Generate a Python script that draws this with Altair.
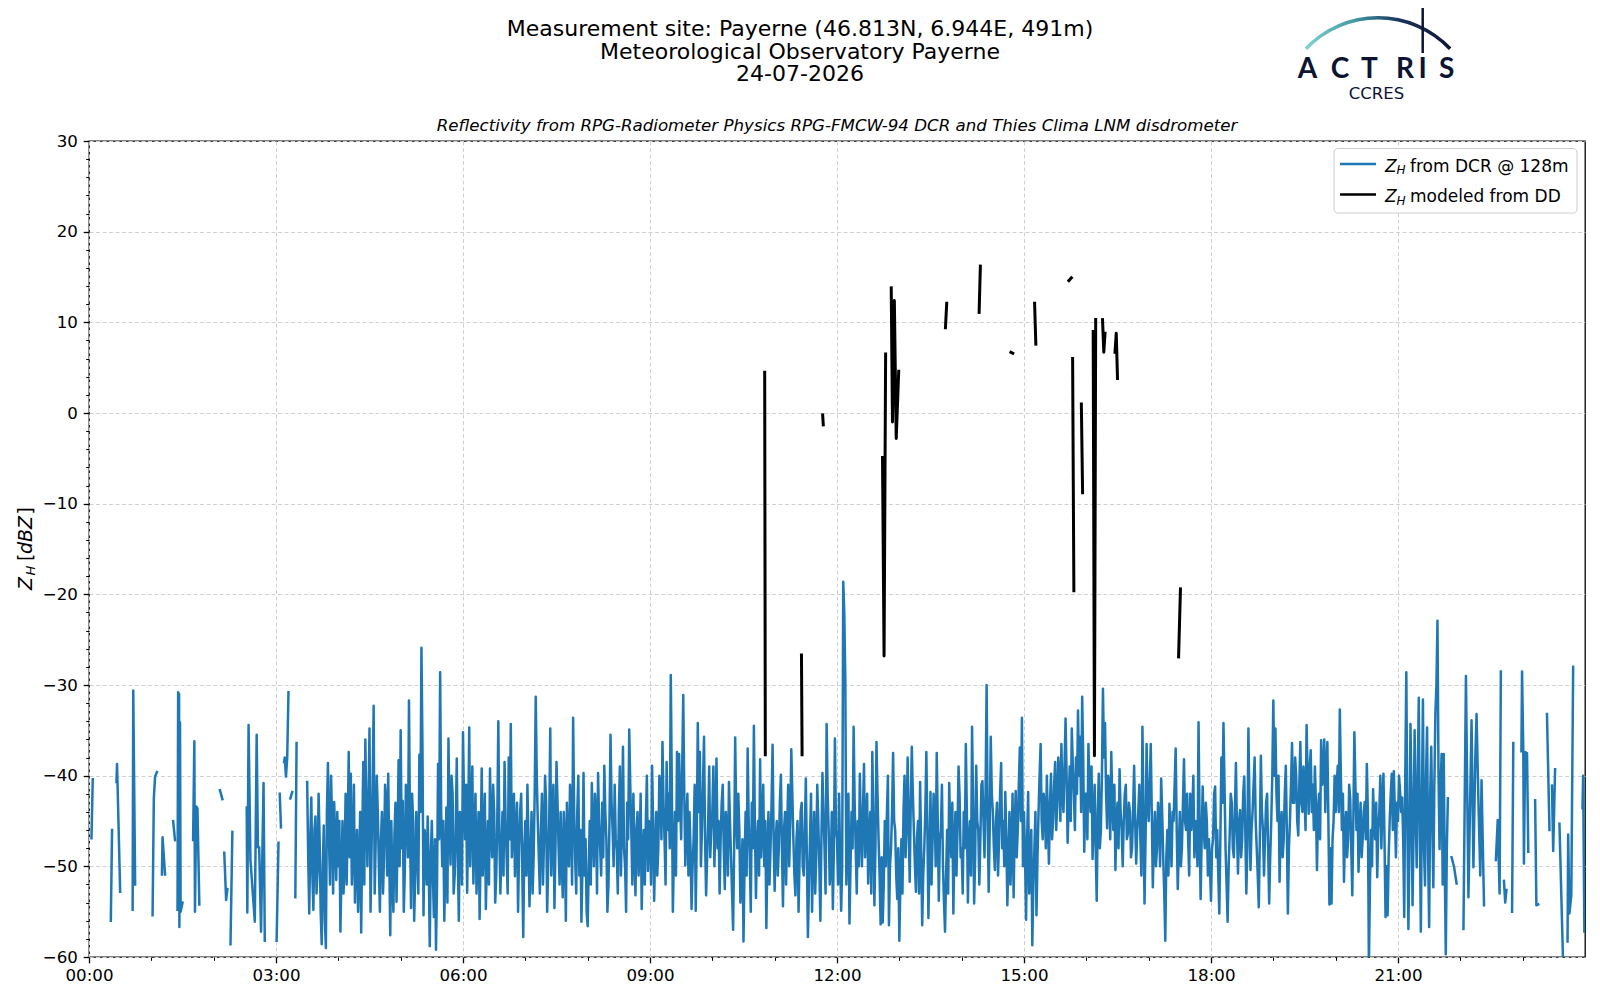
import altair as alt
import pandas as pd

# ---------------- texts ----------------
title_lines = ["Measurement site: Payerne (46.813N, 6.944E, 491m)",
               "Meteorological Observatory Payerne",
               "24-07-2026"]
subtitle = "Reflectivity from RPG-Radiometer Physics RPG-FMCW-94 DCR and Thies Clima LNM disdrometer"
legend_rest = ["from DCR @ 128m", "modeled from DD"]

# ---------------- axis ticks ----------------
x_major = [0, 3, 6, 9, 12, 15, 18, 21]
x_minor = [1, 2, 4, 5, 7, 8, 10, 11, 13, 14, 16, 17, 19, 20, 22, 23]
y_major = [-60, -50, -40, -30, -20, -10, 0, 10, 20, 30]
y_minor = [-58, -56, -54, -52, -48, -46, -44, -42, -38, -36, -34, -32, -28, -26, -24, -22,
           -18, -16, -14, -12, -8, -6, -4, -2, 2, 4, 6, 8, 12, 14, 16, 18, 22, 24, 26, 28]

# ---------------- Z_H from DCR: early sparse part (hours, dBZ), None = gap ----------------
early_t = [0.04, 0.06, None,
           0.35, 0.37, None,
           0.44, 0.45, 0.50, None,
           0.70, 0.71, 0.74, None,
           1.02, 1.04, 1.06, 1.09, None,
           1.17, 1.18, 1.22, None,
           1.35, 1.38, None,
           1.42, 1.43, 1.445, 1.45, 1.46, 1.47, 1.50, None,
           1.67, 1.69, 1.70, 1.72, 1.74, 1.77, None,
           2.10, 2.14, None,
           2.17, 2.20, 2.22, None,
           2.27, 2.30, None,
           2.53, 2.54, 2.56, 2.59, 2.66, 2.69, 2.71, 2.73, 2.76, 2.80, 2.82, None,
           3.01, 3.04, None,
           3.06, 3.08, None,
           3.13, 3.14, 3.16, 3.18, 3.20, None,
           3.23, 3.26, None,
           3.31, 3.33, None]
early_z = [-46.9, -40.4, None,
           -56.0, -46.0, None,
           -40.7, -38.7, -52.8, None,
           -54.8, -30.6, -52.0, None,
           -55.4, -42.5, -40.1, -39.6, None,
           -50.9, -46.8, -50.9, None,
           -45.0, -47.1, None,
           -54.8, -30.8, -31.0, -56.7, -34.1, -55.0, -54.0, None,
           -47.1, -36.2, -55.0, -43.4, -43.6, -54.2, None,
           -41.6, -42.6, None,
           -48.5, -53.7, -52.5, None,
           -58.6, -46.2, None,
           -43.5, -55.1, -34.4, -49.3, -56.1, -35.5, -47.9, -47.9, -57.2, -40.8, -58.2, None,
           -58.2, -47.4, None,
           -42.0, -45.7, None,
           -38.5, -38.0, -40.1, -38.0, -30.8, None,
           -42.5, -41.8, None,
           -53.4, -36.4, None]

# ---------------- Z_H from DCR: dense part, one value per minute ----------------
dcr_03 = [-40.7, -49, -55.2, -47, -42.4, -51, -54.8, -46, -44.5, -53, -50.5, -42, -47.0, -55, -58.6,
          -50, -45.5, -56, -59.0, -44, -38.6, -47, -52.0, -40, -45.0, -53, -42.9, -47, -51.5, -44]
dcr_04 = [-50.0, -45, -57.2, -51, -45.0, -53, -49.5, -42, -52.0, -46, -37.4, -49, -39.8, -52, -48.5,
          -41, -54.0, -49, -46.0, -55, -50.5, -44, -57.3, -47, -38.5, -52, -36.0, -44, -50.0, -43,
          -34.8, -55, -48.0, -41, -32.3, -53, -47.0, -40, -44.0, -50, -55.0, -47, -44.0, -53, -49.0,
          -41, -43.0, -51, -39.8, -49, -57.6, -45, -51.6, -55, -46.5, -43, -53.9, -47, -38.3, -50]
dcr_05 = [-35.0, -48, -42.8, -55, -50.5, -41, -44.0, -49, -31.7, -46, -54.6, -42, -45.0, -56, -51.0,
          -44, -48.0, -53, -37.7, -44, -25.9, -37, -55.4, -46, -47.0, -52, -44.5, -50, -58.8, -49,
          -45.0, -51, -55.6, -47, -59.2, -52, -38.7, -47, -28.6, -44, -50.0, -45, -56.0, -50, -43.5,
          -54, -35.9, -45, -49.8, -40, -42.0, -53, -51.0, -46, -38.1, -49, -56.0, -44, -46.0, -52]
dcr_06 = [-35.2, -43, -47.0, -41, -52.9, -45, -34.7, -50, -44.0, -39, -51.9, -47, -42.0, -53, -48.0,
          -44, -55.8, -48, -39.2, -51, -47.0, -42, -54.7, -49, -45.0, -52, -39.2, -46, -49.0, -41,
          -44.0, -54, -51.0, -45, -34.0, -47, -53.0, -48, -44.0, -51, -38.5, -45, -49.0, -53, -38.0,
          -47, -34.3, -49, -46.0, -42, -51.1, -46, -43.0, -55, -48.0, -44, -42.0, -50, -57.8, -48]
dcr_07 = [-45.0, -51, -41.0, -47, -54.4, -49, -44.0, -53, -49.0, -42, -31.3, -40, -45.0, -49, -53.0,
          -46, -42.0, -52, -47.0, -40, -43.0, -55, -50.0, -45, -34.8, -51, -46.0, -41, -54.6, -48,
          -38.5, -43, -48.0, -52, -44.0, -49, -53.4, -44, -47.0, -56, -43.0, -48, -50.0, -41, -45.0,
          -52, -33.6, -44, -49.3, -53, -44.0, -40, -51.0, -46, -56.1, -50, -39.7, -51, -47.0, -55]
dcr_08 = [-56.6, -50, -45.0, -52, -40.8, -46, -50.0, -42, -44.0, -53, -39.7, -45, -48.0, -51, -43.0,
          -49, -38.9, -44, -47.0, -55, -52.1, -45, -35.5, -43, -46.0, -50, -41.0, -47, -48.2, -53,
          -44.0, -39, -51.0, -45, -36.8, -48, -50.0, -55, -43.0, -47, -34.9, -41, -46.0, -52, -42.0,
          -48, -53.2, -46, -44.0, -51, -48.0, -42, -54.7, -49, -46.0, -52, -44.9, -40, -50.5, -45]
dcr_09 = [-46.0, -52, -38.9, -45, -53.8, -48, -44.0, -51, -48.0, -40, -41.0, -47, -36.3, -43, -47.0,
          -52, -38.5, -46, -42.0, -48, -28.9, -41, -55.0, -49, -44.0, -51, -37.4, -45, -37.6, -43,
          -47.0, -39, -31.1, -42, -49.9, -45, -42.0, -51, -44.0, -48, -54.7, -50, -47.0, -41, -54.9,
          -47, -34.2, -44, -37.4, -50, -46.0, -41, -35.7, -47, -53.2, -49, -45.0, -39, -49.0, -46]
dcr_10 = [-44.0, -39, -50.0, -45, -38.1, -48, -45.0, -53, -47.0, -43, -41.0, -48, -52.5, -44, -46.0,
          -51, -40.7, -45, -49.0, -53, -57.0, -48, -35.8, -45, -48.0, -42, -46.0, -54, -51.0, -47,
          -58.3, -50, -44.0, -51, -37.0, -45, -49.0, -55, -43.0, -48, -34.5, -46, -53.5, -47, -45.0,
          -51, -38.2, -49, -46.0, -41, -50.0, -45, -56.8, -49, -44.0, -52, -48.0, -43, -36.6, -47]
dcr_11 = [-52.7, -47, -45.0, -51, -48.0, -43, -39.9, -48, -54.4, -46, -44.0, -52, -46.0, -41, -50.0,
          -45, -37.1, -42, -47.0, -51, -53.2, -47, -45.0, -55, -49.0, -44, -43.0, -50, -51.0, -46,
          -40.3, -49, -57.8, -52, -47.0, -42, -55.0, -48, -44.0, -53, -49.0, -41, -45.0, -50, -56.0,
          -47, -39.7, -44, -48.0, -53, -34.3, -42, -46.0, -52, -50.0, -44, -54.7, -48, -35.9, -46]
dcr_12 = [-47.0, -52, -42.0, -49, -54.9, -50, -18.6, -22, -29.3, -52, -47.0, -42, -56.3, -50, -44.0,
          -48, -34.6, -43, -48.0, -53, -45.0, -50, -39.8, -46, -50.0, -44, -38.7, -49, -46.0, -42,
          -51.9, -47, -44.0, -53, -37.4, -45, -54.3, -48, -36.3, -42, -47.0, -51, -56.4, -49, -56.2,
          -52, -45.0, -50, -44.4, -40, -56.5, -50, -48.0, -44, -37.5, -45, -46.0, -51, -53.6, -48]
dcr_13 = [-58.2, -52, -47.0, -53, -44.0, -40, -49.0, -45, -38.0, -46, -51.7, -43, -36.8, -42, -46.0,
          -50, -52.8, -47, -45.0, -53, -40.7, -48, -56.5, -51, -48.0, -44, -37.4, -46, -55.7, -49,
          -41.8, -52, -47.0, -42, -44.0, -50, -37.5, -45, -53.8, -47, -46.0, -41, -50.0, -54, -57.2,
          -51, -46.0, -53, -40.8, -46, -49.0, -43, -55.2, -48, -44.0, -51, -46.0, -39, -42.2, -49]
dcr_14 = [-48.0, -53, -44.0, -48, -36.5, -44, -54.0, -47, -45.0, -51, -34.6, -43, -54.1, -49, -38.9,
          -45, -46.0, -52, -47.0, -41, -40.6, -45, -49.0, -42, -30.0, -44, -52.8, -46, -35.7, -42,
          -44.0, -48, -50.4, -45, -43.0, -51, -47.0, -42, -38.6, -48, -45.0, -50, -41.8, -47, -54.3,
          -49, -44.0, -52, -48.0, -42, -53.4, -46, -41.7, -49, -46.0, -41, -36.9, -45, -33.6, -50]
dcr_15 = [-44.0, -49, -55.9, -47, -41.8, -53, -50.0, -46, -58.7, -52, -48.0, -44, -55.4, -49, -44.0,
          -40, -36.5, -45, -47.0, -42, -43.3, -48, -40.0, -45, -49.7, -43, -39.8, -47, -45.0, -41,
          -38.5, -46, -43.0, -38, -40.0, -45, -36.5, -42, -44.0, -39, -33.7, -40, -47.4, -43, -39.0,
          -45, -34.8, -39, -42.0, -46, -38.0, -42, -32.8, -40, -35.7, -44, -31.3, -38, -48.4, -42]
dcr_16 = [-42.0, -47, -36.5, -41, -44.0, -39, -49.2, -45, -41.0, -48, -53.8, -44, -39.8, -48, -46.0,
          -40, -30.4, -38, -34.2, -42, -45.8, -40, -41.0, -47, -37.4, -43, -46.0, -41, -50.4, -45,
          -43.0, -48, -39.3, -44, -46.0, -50, -45.0, -42, -41.0, -47, -46.4, -43, -44.0, -49, -48.0,
          -44, -38.9, -45, -49.7, -46, -44.0, -41, -47.0, -51, -34.6, -44, -54.1, -47, -36.5, -43]
dcr_17 = [-45.0, -41, -36.5, -44, -52.3, -47, -44.0, -50, -48.0, -43, -45.0, -50, -40.3, -44, -49.0,
          -53, -58.2, -49, -46.0, -51, -43.1, -47, -50.0, -44, -45.0, -41, -37.0, -46, -52.5, -48,
          -44.0, -50, -48.0, -43, -38.2, -45, -46.0, -42, -47.0, -51, -42.0, -46, -44.0, -40, -49.0,
          -45, -46.0, -50, -34.1, -45, -53.6, -47, -41.2, -46, -48.0, -43, -45.0, -51, -47.0, -50]
dcr_18 = [-53.8, -48, -47.0, -42, -41.2, -49, -46.0, -51, -55.2, -47, -38.0, -43, -34.2, -41, -48.0,
          -52, -56.1, -50, -46.4, -42, -43.0, -48, -49.0, -44, -38.6, -46, -50.8, -45, -43.8, -49,
          -47.0, -42, -40.1, -46, -53.0, -48, -34.8, -43, -50.4, -46, -44.0, -41, -38.0, -45, -48.0,
          -51, -54.5, -47, -37.8, -44, -46.0, -51, -47.0, -43, -42.0, -48, -54.1, -49, -45.0, -40]
dcr_19 = [-31.7, -40, -34.8, -42, -45.0, -40, -51.7, -46, -44.0, -49, -47.0, -42, -38.9, -46, -55.2,
          -48, -45.0, -41, -36.4, -43, -43.0, -38, -40.0, -45, -46.6, -41, -36.3, -43, -44.0, -39,
          -42.0, -46, -34.4, -40, -44.2, -39, -37.2, -44, -41.0, -46, -39.0, -43, -50.4, -44, -42.0,
          -47, -36.1, -41, -40.0, -36, -44.0, -39, -36.3, -45, -54.2, -48, -54.1, -47, -45.0, -40]
dcr_20 = [-44.0, -41, -38.9, -44, -32.7, -40, -46.0, -42, -51.7, -46, -44.0, -49, -47.0, -41, -42.5,
          -48, -53.2, -45, -35.2, -41, -46.0, -42, -50.6, -46, -43.0, -49, -47.0, -44, -42.9, -47,
          -38.7, -44, -61.0, -52, -46.0, -50, -41.5, -45, -47.0, -43, -51.2, -46, -44.0, -40, -48.0,
          -43, -39.8, -47, -55.6, -50, -55.4, -49, -45.0, -42, -39.8, -46, -39.5, -44, -49.0, -43]
dcr_21 = [-45.0, -40, -41.8, -44, -42.4, -47, -55.6, -40, -28.6, -45, -56.9, -48, -34.3, -42, -54.3,
          -46, -35.0, -44, -50.1, -40, -31.4, -46, -57.2, -43, -31.6, -48, -52.1, -40, -34.7, -49,
          -56.7, -42, -36.8, -45, -52.3, -41, -33.1, -30, -22.9, -40, -48.1, -41, -37.6, -52, -37.6,
          -50, -59.7, -48, -42.5]
dense_starts = [3.5, 4, 5, 6, 7, 8, 9, 10, 11, 12, 13, 14, 15, 16, 17, 18, 19, 20, 21]

# ---------------- Z_H from DCR: late sparse part ----------------
late_t = [21.86, 21.90, 21.94, None,
          22.05, 22.09, 22.13, 22.18, 22.21, 22.24, 22.26, 22.29, 22.32, 22.34, 22.38, None,
          22.57, 22.60, 22.63, 22.65, None,
          22.70, 22.72, 22.74, None,
          22.83, 22.85, None,
          22.98, 22.99, 23.01, 23.02, 23.04, 23.07, 23.09, None,
          23.20, 23.22, 23.25, None,
          23.39, 23.43, None,
          23.47, 23.49, 23.52, None,
          23.59, 23.65, None,
          23.72, 23.73, 23.75, 23.78, 23.81, None,
          23.96, 23.97, 23.99]
late_z = [-49.0, -50.1, -51.9, None,
          -56.9, -29.0, -53.4, -33.9, -50.1, -38.1, -33.2, -42.7, -51.0, -40.5, -54.3, None,
          -49.3, -44.9, -53.0, -28.5, None,
          -51.6, -54.0, -52.6, None,
          -55.0, -36.4, None,
          -37.3, -28.5, -37.2, -49.7, -37.4, -37.5, -48.4, None,
          -42.7, -54.3, -54.2, None,
          -33.2, -46.0, None,
          -41.1, -48.3, -39.3, None,
          -45.3, -61.0, None,
          -58.3, -46.5, -55.2, -53.2, -28.0, None,
          -43.6, -40.0, -57.2]

# ---------------- Z_H modeled from disdrometer ----------------
dd_t = [10.84, 10.85, None, 11.43, 11.44, None, 11.77, 11.78, None,
        12.73, 12.755, 12.78, None,
        12.87, 12.89, 12.92, 12.95, 12.99, None,
        13.74, 13.76, None,
        14.28, 14.30, None,
        14.79, 14.82, None,
        15.17, 15.19, None,
        15.72, 15.76, None,
        15.78, 15.80, None,
        15.92, 15.94, None,
        16.11, 16.13, 16.15, None,
        16.26, 16.28, 16.30, None,
        16.46, 16.48, 16.50, None,
        17.48, 17.51]
dd_z = [4.5, -37.7, None, -26.7, -37.7, None, -0.2, -1.3, None,
        -4.9, -26.8, 6.5, None,
        13.8, -1.0, 12.4, -2.8, 4.6, None,
        9.4, 12.1, None,
        11.1, 16.2, None,
        6.7, 6.6, None,
        12.1, 7.6, None,
        14.6, 14.9, None,
        6.0, -19.6, None,
        1.0, -8.8, None,
        9.0, -37.8, 10.3, None,
        10.3, 6.7, 8.8, None,
        6.7, 8.8, 3.8, None,
        -26.9, -19.4]


def to_rows(ts, zs, name, seg0=0):
    rows, seg = [], seg0
    for t, z in zip(ts, zs):
        if z is None:
            seg += 1
            continue
        rows.append({"t": t, "z": z, "seg": f"{name}{seg}"})
    return rows, seg + 1


dense_lists = [dcr_03, dcr_04, dcr_05, dcr_06, dcr_07, dcr_08, dcr_09, dcr_10, dcr_11, dcr_12,
               dcr_13, dcr_14, dcr_15, dcr_16, dcr_17, dcr_18, dcr_19, dcr_20, dcr_21]
dense_t, dense_z = [], []
for h0, vals in zip(dense_starts, dense_lists):
    dense_t += [h0 + k / 60 for k in range(len(vals))]
    dense_z += vals

r1, s = to_rows(early_t, early_z, "b")
r2, s = to_rows(dense_t, dense_z, "b", s)
r3, s = to_rows(late_t, late_z, "b", s)
blue_df = pd.DataFrame(r1 + r2 + r3)
black_df = pd.DataFrame(to_rows(dd_t, dd_z, "k")[0])
one = pd.DataFrame({"k": [0]})

FONT = "DejaVu Sans"
NAVY = "#0d1433"
BLUE = "#1f77b4"
GRID = "#d0d0d0"
W, H = 1496, 816

xscale = alt.Scale(domain=[0, 24], nice=False, zero=False)
yscale = alt.Scale(domain=[-60, 30], nice=False, zero=False)

x_axis = alt.Axis(values=x_major, orient="bottom", title="", grid=True, gridColor=GRID, gridDash=[4, 2.5],
                  gridWidth=1, domain=False, tickSize=5.8, tickWidth=1.3, tickColor="black",
                  labelFont=FONT, labelFontSize=16.67, labelColor="black", labelPadding=5, labelFlush=False,
                  labelExpr="(datum.value < 10 ? '0' : '') + datum.value + ':00'")
y_axis = alt.Axis(values=y_major, orient="left", title="", grid=True, gridColor=GRID, gridDash=[4, 2.5],
                  gridWidth=1, domain=False, tickSize=5.8, tickWidth=1.3, tickColor="black",
                  labelFont=FONT, labelFontSize=16.67, labelColor="black", labelPadding=5.8, labelFlush=False)
x_axis_minor = alt.Axis(values=x_minor, orient="bottom", title="", grid=False, domain=False, labels=False,
                        tickSize=3.3, tickWidth=1, tickColor="black")
y_axis_minor = alt.Axis(values=y_minor, orient="left", title="", grid=False, domain=False, labels=False,
                        tickSize=3.3, tickWidth=1, tickColor="black")

blue = alt.Chart(blue_df).mark_line(color=BLUE, strokeWidth=2.5, clip=True, strokeJoin="round",
                                    strokeCap="square").encode(
    x=alt.X("t:Q", scale=xscale, axis=x_axis),
    y=alt.Y("z:Q", scale=yscale, axis=y_axis),
    detail="seg:N", order="t:Q")

black = alt.Chart(black_df).mark_line(color="black", strokeWidth=3, clip=True, strokeJoin="round",
                                      strokeCap="square").encode(
    x=alt.X("t:Q", scale=xscale, axis=x_axis_minor),
    y=alt.Y("z:Q", scale=yscale, axis=y_axis_minor),
    detail="seg:N", order="t:Q")


def text(s, x, y, size, align="center", style="normal", color="black", font=FONT, angle=0, weight="normal"):
    return alt.Chart(one).mark_text(align=align, baseline="alphabetic", fontSize=size, font=font,
                                    fontStyle=style, fontWeight=weight, color=color, angle=angle).encode(
        x=alt.value(x), y=alt.value(y), text=alt.value(s))


layers = [blue, black]

# titles
layers.append(text(title_lines[0], 711, -105, 22))
layers.append(text(title_lines[1], 711, -82.5, 22))
layers.append(text(title_lines[2], 711, -60, 22))
layers.append(text(subtitle, W / 2, -10, 16.67, style="italic"))

# y-axis title: Z_H [dBZ]
layers.append(text("Z", -57.3, 449, 19, align="left", style="italic", angle=270))
layers.append(text("H", -54, 434.5, 13, align="left", style="italic", angle=270))
layers.append(text("[", -57.3, 420, 19, align="left", angle=270))
layers.append(text("dBZ", -57.3, 413, 19, align="left", style="italic", angle=270))
layers.append(text("]", -57.3, 373.5, 19, align="left", angle=270))

# legend
layers.append(alt.Chart(one).mark_rect(fill="white", fillOpacity=0.8, stroke="#cccccc", strokeWidth=1,
                                       cornerRadius=4).encode(
    x=alt.value(1245), x2=alt.value(1488), y=alt.value(7.5), y2=alt.value(72)))
layers.append(alt.Chart(one).mark_rule(color=BLUE, strokeWidth=2.5).encode(
    x=alt.value(1251), x2=alt.value(1287), y=alt.value(23)))
layers.append(alt.Chart(one).mark_rule(color="black", strokeWidth=2.5).encode(
    x=alt.value(1251), x2=alt.value(1287), y=alt.value(53.5)))
for yb, rest in [(30.7, legend_rest[0]), (61.2, legend_rest[1])]:
    layers.append(text("Z", 1296, yb, 17, align="left", style="italic"))
    layers.append(text("H", 1307.5, yb + 2.5, 12, align="left", style="italic"))
    layers.append(text(rest, 1321, yb, 17, align="left"))

# logo
grad = alt.LinearGradient(gradient="linear", x1=0, x2=1, y1=0, y2=0,
                          stops=[alt.GradientStop(color="#86d3cf", offset=0),
                                 alt.GradientStop(color="#3f97a3", offset=0.35),
                                 alt.GradientStop(color="#17335c", offset=0.65),
                                 alt.GradientStop(color=NAVY, offset=1)])
layers.append(alt.Chart(one).mark_arc(theta=5.47, theta2=7.096, innerRadius=97.5, outerRadius=101,
                                      fill=grad).encode(x=alt.value(1289), y=alt.value(-24)))
layers.append(alt.Chart(one).mark_rule(color=NAVY, strokeWidth=2.5).encode(
    x=alt.value(1333.7), y=alt.value(-133), y2=alt.value(-88)))
for letter, lx in [("A", 1218.5), ("C", 1251), ("T", 1280.5), ("R", 1316), ("I", 1333.7), ("S", 1357.7)]:
    layers.append(text(letter, lx, -62.7, 28, font="Lato", color=NAVY, weight="bold"))
layers.append(text("CCRES", 1287.5, -41.7, 16.5, color=NAVY))

chart = alt.layer(*layers).resolve_axis(x="independent", y="independent").properties(
    width=W, height=H,
    autosize=alt.AutoSizeParams(type="none"),
    padding={"left": 81, "top": 133, "right": 7, "bottom": 35},
).configure_view(stroke="black", strokeWidth=1.3)

chart.save("out.html", embed_options={"renderer": "svg", "actions": False})
